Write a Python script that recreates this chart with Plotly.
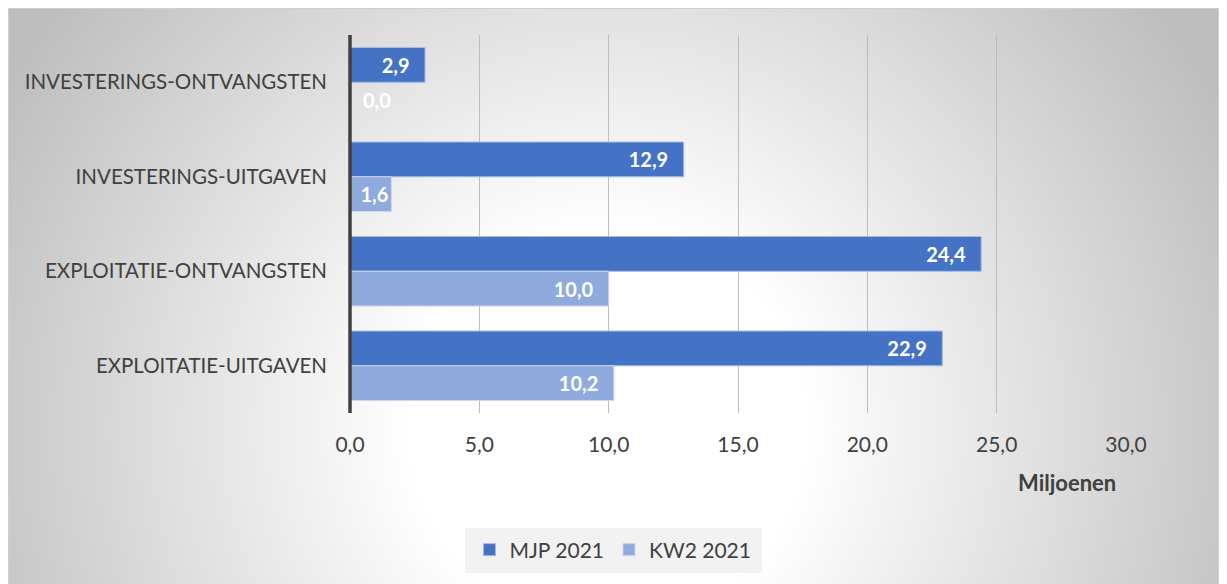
import base64
import plotly.graph_objects as go

categories = ["INVESTERINGS-ONTVANGSTEN", "INVESTERINGS-UITGAVEN",
              "EXPLOITATIE-ONTVANGSTEN", "EXPLOITATIE-UITGAVEN"]
mjp_2021 = [2.9, 12.9, 24.4, 22.9]
kw2_2021 = [0.0, 1.6, 10.0, 10.2]
tick_vals = [0, 5, 10, 15, 20, 25, 30]

FONT = "Lato"
W, H = 1211, 576
L, R, T, B = 342, 1118, 27, 405
pw, ph = R - L, B - T

svg = (
    f"<svg xmlns='http://www.w3.org/2000/svg' width='{W}' height='{H}'>"
    "<defs><radialGradient id='g' gradientUnits='userSpaceOnUse' cx='600' cy='420' r='700'>"
    "<stop offset='0' stop-color='#ffffff'/>"
    "<stop offset='0.28' stop-color='#ffffff'/>"
    "<stop offset='1' stop-color='#bdbdbd'/>"
    "</radialGradient></defs>"
    f"<rect x='0' y='0' width='{W}' height='{H}' fill='url(#g)'/></svg>"
)
src = "data:image/svg+xml;base64," + base64.b64encode(svg.encode()).decode()

PAD = "\u2002\u2009"
label_font = dict(family=FONT, size=20, color="white", weight="bold")

fig = go.Figure()
fig.add_trace(go.Bar(
    y=categories, x=mjp_2021, name="MJP 2021", orientation="h",
    marker=dict(color="#4472C4", line=dict(color="#A4BAE3", width=1)),
    texttemplate="%{x:.1f}" + PAD, textposition="inside", insidetextanchor="end",
    constraintext="none", textfont=label_font,
))
fig.add_trace(go.Bar(
    y=categories, x=kw2_2021, name="KW2 2021", orientation="h",
    marker=dict(color="#8FAADC", line=dict(color="#C9D6EF", width=1)),
    texttemplate=["\u2002%{x:.1f}" if v == 0 else ("%{x:.1f}" if v < 3 else "%{x:.1f}" + PAD)
                  for v in kw2_2021],
    textposition=["outside" if v == 0 else "inside" for v in kw2_2021],
    insidetextanchor="end", constraintext="none", cliponaxis=False,
    textfont=label_font, outsidetextfont=label_font,
))

fig.update_layout(
    width=W, height=H,
    margin=dict(l=L, r=W - R, t=T, b=H - B, pad=0),
    barmode="group", bargap=0.265, bargroupgap=0,
    paper_bgcolor="white", plot_bgcolor="rgba(0,0,0,0)",
    separators=",.",
    font=dict(family=FONT, size=20, color="#404040"),
    showlegend=True,
    legend=dict(orientation="h", x=(605 - L) / pw, xanchor="center",
                y=(B - 542) / ph, yanchor="middle",
                bgcolor="rgba(0,0,0,0)",
                font=dict(family=FONT, size=21, color="#404040"),
                itemwidth=30, tracegroupgap=0),
    xaxis=dict(range=[0, 30], tickvals=tick_vals, tickformat=".1f",
               showgrid=True, gridcolor="#bdbdbd", gridwidth=1,
               zeroline=False, showline=False,
               ticks="outside", ticklen=13, tickcolor="rgba(0,0,0,0)",
               tickfont=dict(family=FONT, size=21, color="#404040"),
               fixedrange=True),
    yaxis=dict(autorange="reversed", showgrid=False, zeroline=False,
               showline=False, ticks="", ticklabelstandoff=22,
               tickfont=dict(family=FONT, size=20.5, color="#404040")),
    images=[dict(source=src, xref="paper", yref="paper",
                 x=-L / pw, y=B / ph, sizex=W / pw, sizey=H / ph,
                 sizing="stretch", xanchor="left", yanchor="top", layer="below")],
    shapes=[
        dict(type="rect", xref="paper", yref="paper",
             x0=(457 - L) / pw, x1=(754 - L) / pw,
             y0=(B - 565) / ph, y1=(B - 520) / ph,
             fillcolor="#f2f2f2", line=dict(width=0), layer="below"),
        dict(type="rect", xref="paper", yref="paper",
             x0=-L / pw, x1=(W - L) / pw, y0=(B - H - 5) / ph, y1=B / ph,
             line=dict(color="#cfcfcf", width=2), layer="below"),
        dict(type="line", xref="paper", yref="paper", x0=0, x1=0, y0=0, y1=1,
             line=dict(color="#404040", width=3.5), layer="above"),
    ],
    annotations=[dict(text="<b>Miljoenen</b>", xref="paper", yref="paper",
                      x=(1059 - L) / pw, y=(B - 474) / ph,
                      xanchor="center", yanchor="middle", showarrow=False,
                      font=dict(family=FONT, size=22, color="#404040"))],
)

fig.write_html("out.html")
